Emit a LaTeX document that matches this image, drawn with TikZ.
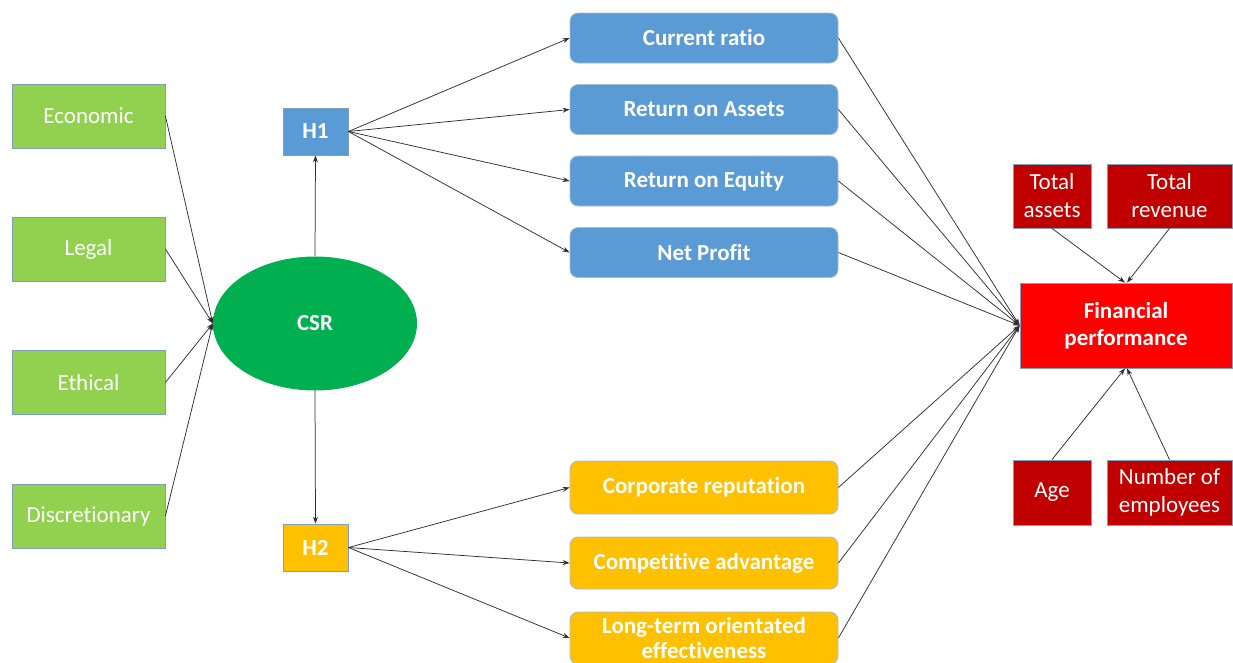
\documentclass[tikz,border=0pt]{standalone}
\usepackage{fontspec}
\setmainfont[Ligatures=NoCommon]{Carlito}
\usetikzlibrary{arrows.meta,shapes.geometric}
\definecolor{grn}{HTML}{92D050}
\definecolor{csrgreen}{HTML}{00B050}
\definecolor{blu}{HTML}{5B9BD5}
\definecolor{org}{HTML}{FFC000}
\definecolor{dred}{HTML}{C00000}
\definecolor{brd}{HTML}{7F9FBF}
\definecolor{ln}{HTML}{303030}
\newcommand{\labelsize}{\fontsize{23}{27}\selectfont}
\tikzset{
  base/.style={inner sep=0pt, text=white, align=center, line width=0.8pt},
  dimbox/.style={base, draw=brd, fill=grn, minimum width=153pt, minimum height=64pt, font=\labelsize},
  hbox/.style={base, draw=brd, minimum width=65pt, minimum height=47pt, font=\bfseries\labelsize},
  metric/.style={base, draw=brd!70, rounded corners=8pt, minimum width=268pt, minimum height=50pt, font=\bfseries\labelsize},
  ctrl/.style={base, draw=brd, fill=dred, minimum height=64pt, font=\labelsize},
  link/.style={draw=ln, line width=0.75pt, -{Stealth[length=7pt,width=5pt]}},
}
\begin{document}
\begin{tikzpicture}[x=1pt,y=-1pt]
\useasboundingbox (0,0) rectangle (1233,662);
\fill[white] (0,0) rectangle (1233,662);

% CSR dimensions
\node[dimbox] (eco) at (88.5,116) {Economic};
\node[dimbox] (leg) at (88.5,249) {Legal};
\node[dimbox] (eth) at (88.5,382.5) {Ethical};
\node[dimbox] (dis) at (88.5,516) {Discretionary};

\node[ellipse, fill=csrgreen, minimum width=204pt, minimum height=134pt, inner sep=0pt,
      text=white, font=\bfseries\labelsize] (csr) at (315,323.5) {CSR};

\node[hbox, fill=blu] (h1) at (315.5,131.5) {H1};
\node[hbox, fill=org] (h2) at (315.5,547.5) {H2};

% financial measures
\node[metric, fill=blu] (cr)  at (704,38)    {Current ratio};
\node[metric, fill=blu] (roa) at (704,109.5) {Return on Assets};
\node[metric, fill=blu] (roe) at (704,181)   {Return on Equity};
\node[metric, fill=blu] (np)  at (704,252.5) {Net Profit};

% non-financial measures
\node[metric, fill=org, minimum height=53pt] (rep) at (704,487.5) {Corporate reputation};
\node[metric, fill=org, minimum height=52pt] (cmp) at (704,563) {Competitive advantage};
\node[metric, fill=org, minimum height=52pt, font=\bfseries\fontsize{23}{25}\selectfont] (lto) at (704,638) {Long-term orientated\\effectiveness};

% outcome and controls
\node[base, draw=brd, fill=red, minimum width=212pt, minimum height=85pt,
      font=\bfseries\labelsize] (fp) at (1126,325.5) {Financial\\performance};
\node[ctrl, minimum width=78pt, font=\fontsize{23}{28}\selectfont] (ta) at (1052,196) {Total\\assets};
\node[ctrl, minimum width=125pt, font=\fontsize{23}{28}\selectfont] (tr) at (1169.5,196) {Total\\revenue};
\node[ctrl, minimum width=78pt, minimum height=65pt] (age) at (1052,492.5) {Age};
\node[ctrl, minimum width=125pt, minimum height=65pt, font=\fontsize{23}{28}\selectfont] (emp) at (1169.5,492.5) {Number of\\employees};

% connectors
\foreach \s in {eco,leg,eth,dis} \draw[link] (\s.east) -- (csr.west);
\draw[link] (csr.north) -- (h1.south);
\draw[link] (csr.south) -- (h2.north);
\foreach \t in {cr,roa,roe,np} \draw[link] (h1.east) -- (\t.west);
\foreach \t in {rep,cmp,lto} \draw[link] (h2.east) -- (\t.west);
\foreach \s in {cr,roa,roe,np,rep,cmp,lto} \draw[link] (\s.east) -- (fp.west);
\draw[link] (ta.south) -- ([xshift=-1pt]fp.north);
\draw[link] (tr.south) -- ([xshift=1pt]fp.north);
\draw[link] (age.north) -- ([xshift=-1pt]fp.south);
\draw[link] (emp.north) -- ([xshift=1pt]fp.south);
\end{tikzpicture}
\end{document}
